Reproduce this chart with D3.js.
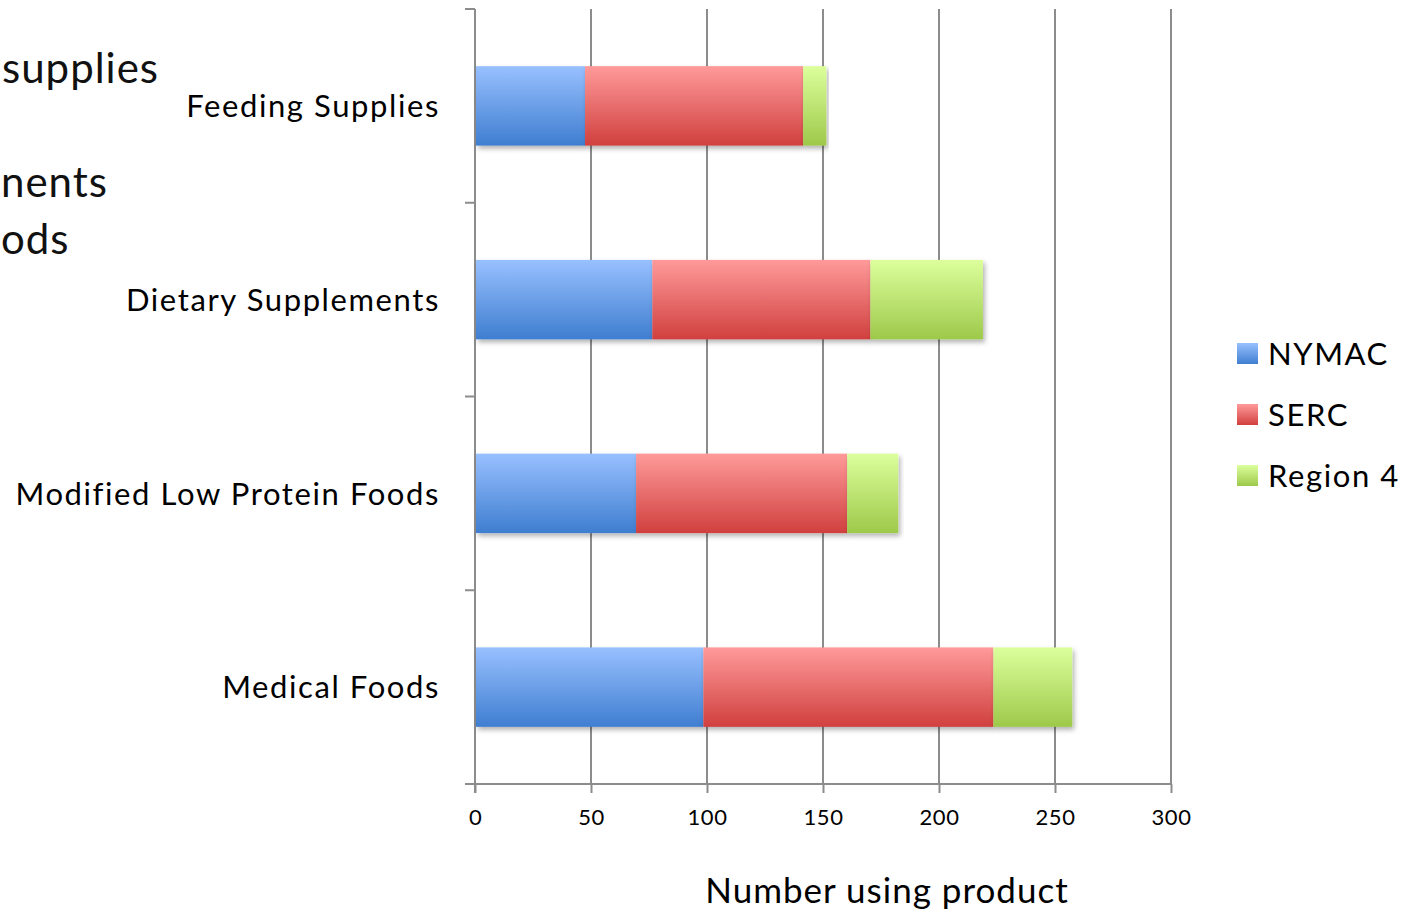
<!DOCTYPE html>
<html>
<head>
<meta charset="utf-8">
<script src="https://cdn.jsdelivr.net/npm/d3@7"></script>
<style>
  body { margin: 0; background: #fff; }
  svg { display: block; font-family: Lato, "Open Sans", sans-serif; }
</style>
</head>
<body>
<script>
// data (top to bottom in the chart)
const categories = ["Feeding Supplies", "Dietary Supplements", "Modified Low Protein Foods", "Medical Foods"];
const seriesNames = ["NYMAC", "SERC", "Region 4"];
const nymac   = [47, 76, 69, 98];
const serc    = [94, 94, 91, 125];
const region4 = [10, 48.5, 22, 34];
const xTicks = [0, 50, 100, 150, 200, 250, 300];
// visible bits of the slide text behind the chart
const behindText = [
  {text: "supplies", x: 2, y: 83},
  {text: "nents", x: 1, y: 197},
  {text: "ods", x: 1, y: 254}
];

const colors = [
  {top: "#98c0ff", bottom: "#3f7ed0"},
  {top: "#ff9a9a", bottom: "#d0403e"},
  {top: "#dcff9c", bottom: "#9dc94a"}
];

const width = 1414, height = 913;
const margin = {left: 475, right: 243, top: 9, bottom: 129};

const rows = categories.map((c, i) => ({
  category: c, "NYMAC": nymac[i], "SERC": serc[i], "Region 4": region4[i]
}));

const svg = d3.select("body").append("svg")
    .attr("width", width)
    .attr("height", height);

const defs = svg.append("defs");
colors.forEach((c, i) => {
  const g = defs.append("linearGradient")
      .attr("id", "grad" + i)
      .attr("x1", 0).attr("y1", 0).attr("x2", 0).attr("y2", 1);
  g.append("stop").attr("offset", "0%").attr("stop-color", c.top);
  g.append("stop").attr("offset", "100%").attr("stop-color", c.bottom);
});
defs.append("filter")
    .attr("id", "shadow")
    .attr("x", "-5%").attr("y", "-10%").attr("width", "115%").attr("height", "130%")
  .append("feDropShadow")
    .attr("dx", 2).attr("dy", 3)
    .attr("stdDeviation", 2.5)
    .attr("flood-color", "#000")
    .attr("flood-opacity", 0.3);

// text from the slide underneath
svg.append("g")
    .attr("font-size", 42)
    .attr("letter-spacing", 1)
    .attr("fill", "#111")
  .selectAll("text")
  .data(behindText)
  .join("text")
    .attr("x", d => d.x)
    .attr("y", d => d.y)
    .text(d => d.text);

const x = d3.scaleLinear()
    .domain([0, 300])
    .range([margin.left, width - margin.right]);

const y = d3.scaleBand()
    .domain(categories)
    .range([margin.top, height - margin.bottom])
    .paddingInner(0.59)
    .paddingOuter(0.295);

const gridColor = "#8c8c8c";

// vertical gridlines
svg.append("g")
  .selectAll("line")
  .data(xTicks.slice(1))
  .join("line")
    .attr("x1", d => x(d)).attr("x2", d => x(d))
    .attr("y1", margin.top).attr("y2", height - margin.bottom)
    .attr("stroke", gridColor)
    .attr("stroke-width", 2);

// bottom axis
const xAxis = svg.append("g")
    .attr("transform", `translate(0,${height - margin.bottom})`)
    .call(d3.axisBottom(x).tickValues(xTicks).tickSize(9).tickSizeOuter(0).tickPadding(16));
xAxis.select(".domain")
    .attr("d", `M${margin.left - 10},0H${x(300)}`)
    .attr("stroke", gridColor)
    .attr("stroke-width", 2);
xAxis.selectAll(".tick line").attr("stroke", gridColor).attr("stroke-width", 2);
xAxis.selectAll(".tick text")
    .attr("font-family", "Lato, sans-serif")
    .attr("font-size", 22)
    .attr("letter-spacing", 0.5)
    .attr("fill", "#000");

// left axis with ticks at band boundaries
const step = y.step();
const bounds = d3.range(categories.length + 1).map(i => margin.top + i * step);
svg.append("line")
    .attr("x1", x(0)).attr("x2", x(0))
    .attr("y1", margin.top).attr("y2", height - margin.bottom + 9)
    .attr("stroke", gridColor)
    .attr("stroke-width", 2);
svg.append("g")
  .selectAll("line")
  .data(bounds.slice(0, -1))
  .join("line")
    .attr("x1", x(0) - 10).attr("x2", x(0))
    .attr("y1", d => d).attr("y2", d => d)
    .attr("stroke", gridColor)
    .attr("stroke-width", 2);

// category labels
svg.append("g")
    .attr("font-size", 31)
    .attr("letter-spacing", 1.6)
    .attr("text-anchor", "end")
    .attr("fill", "#000")
  .selectAll("text")
  .data(categories)
  .join("text")
    .attr("x", x(0) - 35)
    .attr("y", d => y(d) + y.bandwidth() / 2)
    .attr("dy", "0.36em")
    .text(d => d);

// stacked bars
const stack = d3.stack().keys(seriesNames)(rows);

svg.append("g")
  .selectAll("g")
  .data(stack)
  .join("g")
    .attr("fill", (d, i) => `url(#grad${i})`)
  .selectAll("rect")
  .data(d => d)
  .join("rect")
    .attr("x", d => x(d[0]) + 1)
    .attr("y", d => y(d.data.category))
    .attr("width", d => x(d[1]) - x(d[0]))
    .attr("height", y.bandwidth())
    .attr("filter", "url(#shadow)");

// legend
const legend = svg.append("g")
    .attr("transform", "translate(1237,343)");
const item = legend.selectAll("g")
  .data(seriesNames)
  .join("g")
    .attr("transform", (d, i) => `translate(0,${i * 61})`);
item.append("rect")
    .attr("width", 21).attr("height", 21)
    .attr("fill", (d, i) => `url(#grad${i})`);
item.append("text")
    .attr("x", 31)
    .attr("y", 11)
    .attr("dy", "0.36em")
    .attr("font-size", 31)
    .attr("letter-spacing", 1.6)
    .attr("fill", "#000")
    .text(d => d);

// axis title
svg.append("text")
    .attr("x", 887)
    .attr("y", 903)
    .attr("text-anchor", "middle")
    .attr("font-size", 35)
    .attr("letter-spacing", 1)
    .attr("fill", "#000")
    .text("Number using product");
</script>
</body>
</html>
